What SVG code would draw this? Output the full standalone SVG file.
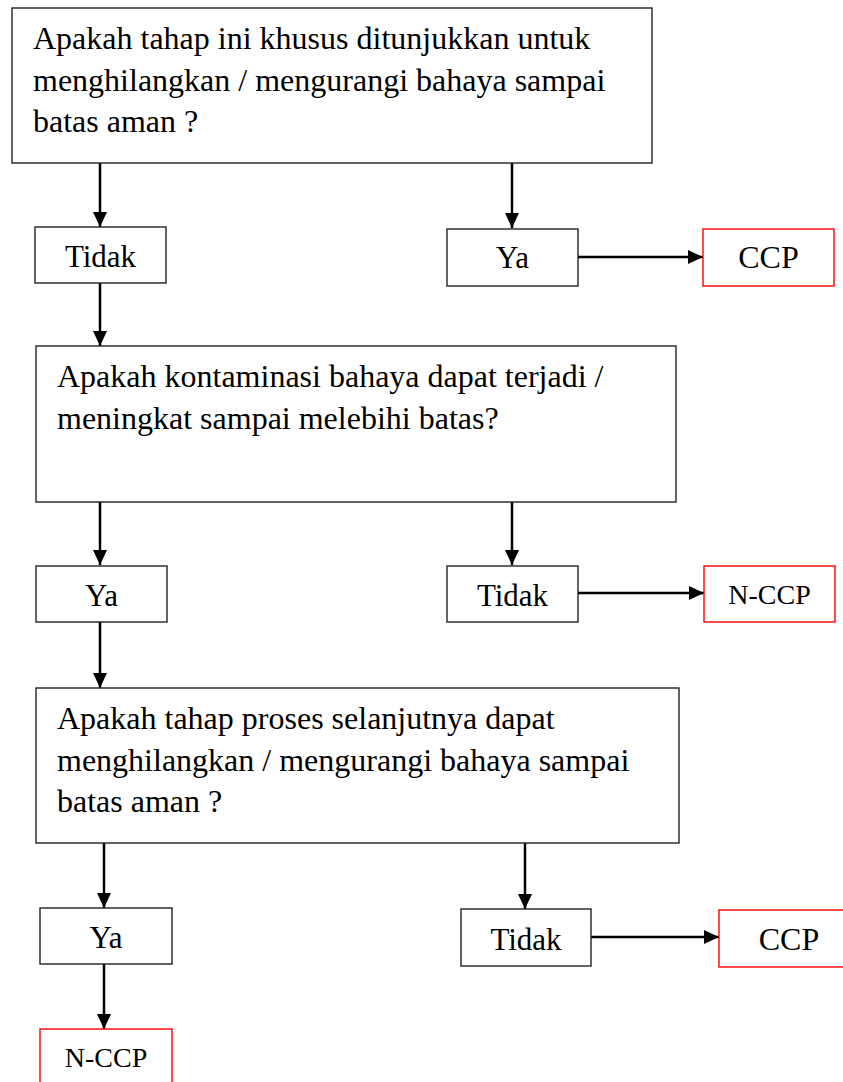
<svg xmlns="http://www.w3.org/2000/svg" width="843" height="1082" viewBox="0 0 843 1082">
  <style>
    .box { fill: #ffffff; stroke: #222222; stroke-width: 1.4; }
    .end { fill: #ffffff; stroke: #ff0000; stroke-width: 1.4; }
    text { font-family: 'Liberation Serif', Tinos, 'Times New Roman', Times, serif; fill: #000000; }
    .q { font-size: 32px; }
    .lbl { font-size: 31px; text-anchor: middle; }
    .big { font-size: 32px; }
    .sm { font-size: 28px; }
    .link { stroke: #000000; stroke-width: 2.5; fill: none; marker-end: url(#head); }
  </style>
  <defs>
    <marker id="head" markerUnits="userSpaceOnUse" markerWidth="16" markerHeight="15" refX="15" refY="7" orient="auto">
      <path d="M0,0 L15,7 L0,14 z" fill="#000000"/>
    </marker>
  </defs>

  <rect width="843" height="1082" fill="#ffffff"/>

  <!-- connectors -->
  <g id="connectors">
    <line class="link" x1="100" y1="163" x2="100" y2="227"/>
    <line class="link" x1="512" y1="163" x2="512" y2="228"/>
    <line class="link" x1="578" y1="257" x2="703" y2="257"/>
    <line class="link" x1="100" y1="283" x2="100" y2="346"/>
    <line class="link" x1="100" y1="502" x2="100" y2="565"/>
    <line class="link" x1="512" y1="502" x2="512" y2="565"/>
    <line class="link" x1="578" y1="593" x2="704" y2="593"/>
    <line class="link" x1="100" y1="622" x2="100" y2="688"/>
    <line class="link" x1="104" y1="843" x2="104" y2="908"/>
    <line class="link" x1="525" y1="843" x2="525" y2="909"/>
    <line class="link" x1="591" y1="937" x2="719" y2="937"/>
    <line class="link" x1="104" y1="964" x2="104" y2="1029"/>
  </g>

  <!-- question 1 -->
  <g id="q1">
    <rect class="box" x="12" y="8" width="640" height="155"/>
    <text class="q" x="33" y="49">Apakah tahap ini khusus ditunjukkan untuk</text>
    <text class="q" x="33" y="91">menghilangkan / mengurangi bahaya sampai</text>
    <text class="q" x="33" y="132">batas aman ?</text>
  </g>
  <g id="q1-tidak">
    <rect class="box" x="35" y="227" width="131" height="56"/>
    <text class="lbl" x="100.5" y="267">Tidak</text>
  </g>
  <g id="q1-ya">
    <rect class="box" x="447" y="229" width="131" height="57"/>
    <text class="lbl" x="512.5" y="268">Ya</text>
  </g>
  <g id="ccp-1">
    <rect class="end" x="703" y="229" width="131" height="57"/>
    <text class="lbl big" x="768.5" y="268">CCP</text>
  </g>

  <!-- question 2 -->
  <g id="q2">
    <rect class="box" x="36" y="346" width="640" height="156"/>
    <text class="q" x="57" y="387">Apakah kontaminasi bahaya dapat terjadi /</text>
    <text class="q" x="57" y="429">meningkat sampai melebihi batas?</text>
  </g>
  <g id="q2-ya">
    <rect class="box" x="36" y="566" width="131" height="56"/>
    <text class="lbl" x="101.5" y="606">Ya</text>
  </g>
  <g id="q2-tidak">
    <rect class="box" x="447" y="566" width="131" height="56"/>
    <text class="lbl" x="512.5" y="606">Tidak</text>
  </g>
  <g id="nccp-1">
    <rect class="end" x="704" y="566" width="131" height="56"/>
    <text class="lbl sm" x="769.5" y="604">N-CCP</text>
  </g>

  <!-- question 3 -->
  <g id="q3">
    <rect class="box" x="36" y="688" width="643" height="155"/>
    <text class="q" x="57" y="729">Apakah tahap proses selanjutnya dapat</text>
    <text class="q" x="57" y="771">menghilangkan / mengurangi bahaya sampai</text>
    <text class="q" x="57" y="812">batas aman ?</text>
  </g>
  <g id="q3-ya">
    <rect class="box" x="40" y="908" width="132" height="56"/>
    <text class="lbl" x="106" y="948">Ya</text>
  </g>
  <g id="q3-tidak">
    <rect class="box" x="461" y="909" width="130" height="57"/>
    <text class="lbl" x="526" y="950">Tidak</text>
  </g>
  <g id="ccp-2">
    <rect class="end" x="719" y="910" width="130" height="57"/>
    <text class="lbl big" x="789" y="950">CCP</text>
  </g>
  <g id="nccp-2">
    <rect class="end" x="40" y="1029" width="132" height="60"/>
    <text class="lbl sm" x="106" y="1067">N-CCP</text>
  </g>
</svg>
